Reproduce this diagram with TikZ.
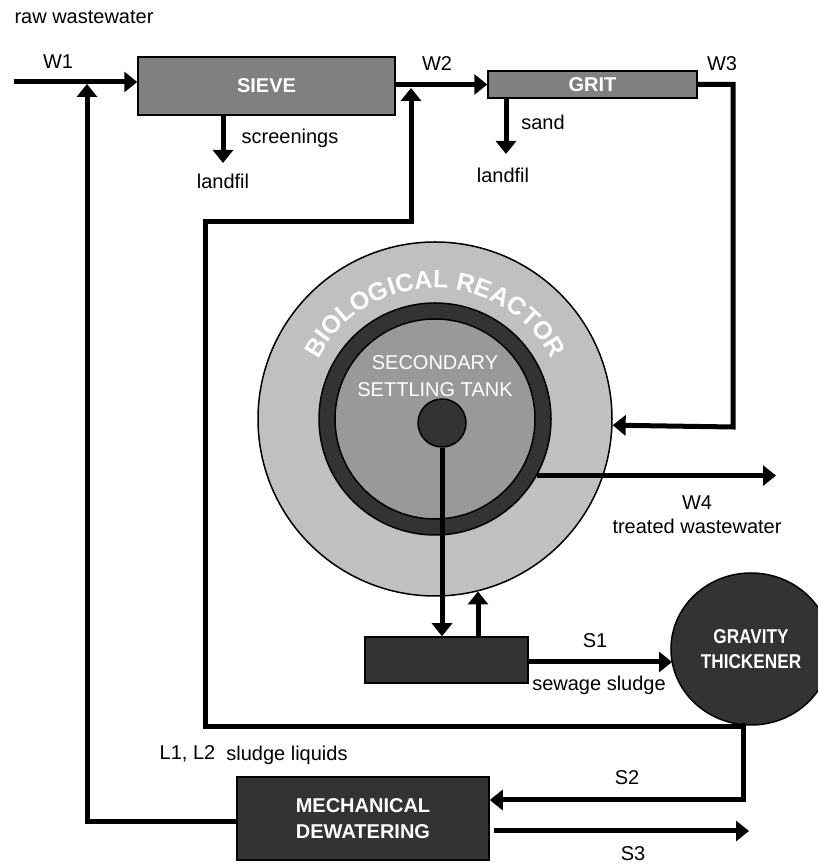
\documentclass[tikz,border=0pt]{standalone}
\usepackage{fontspec}
\usepackage{graphicx}
\setmainfont{Liberation Sans}
\usetikzlibrary{arrows.meta,shapes.geometric,decorations.text,calc}
\definecolor{darkfill}{HTML}{333333}
\definecolor{midfill}{HTML}{808080}
\definecolor{lightfill}{HTML}{C0C0C0}
\definecolor{tankfill}{HTML}{999999}
\begin{document}
\begin{tikzpicture}[x=1pt,y=1pt,
  flow/.style={line width=5pt, line join=miter, -{Triangle[length=13pt,width=20pt]}},
  lbl/.style={font=\fontsize{20}{24}\selectfont, inner sep=0pt, text height=14.5pt, text depth=4pt},
  unit/.style={draw=black, line width=1.5pt, inner sep=0pt, text=white},
]
\useasboundingbox[fill=white] (0,0) rectangle (818,864);

% biological reactor and settling tank
\node[unit, circle, fill=lightfill, minimum size=354pt] (reactor) at (435,445) {};
\node[unit, circle, fill=darkfill, minimum size=232pt] (ring) at (435,445) {};
\node[unit, circle, fill=tankfill, minimum size=200pt] (tank) at (435,445) {};
\node[unit, circle, fill=darkfill, minimum size=48pt] (sc) at (442,441) {};
\node[text=white, align=center, font=\fontsize{20}{27}\selectfont, inner sep=0pt] (tanklbl) at (435,488) {SECONDARY\\SETTLING TANK};
\begin{scope}
\bfseries\fontsize{25}{28}\selectfont
\path[decorate, decoration={text along path, text align=center, text color=white,
  text={|\bfseries\fontsize{25}{28}\selectfont|BIOLOGICAL REACTOR}}]
  (304,445) arc[start angle=180, end angle=0, radius=131];
\end{scope}

% units
\node[unit, rectangle, fill=midfill, minimum width=257pt, minimum height=58pt,
  font=\bfseries\fontsize{20}{24}\selectfont] (sieve) at (266.5,778) {SIEVE};
\node[unit, rectangle, fill=midfill, minimum width=209pt, minimum height=27pt,
  font=\bfseries\fontsize{20}{24}\selectfont] (grit) at (592.5,779.5) {GRIT};
\node[unit, rectangle, fill=darkfill, minimum width=163pt, minimum height=46pt] (sludge) at (446.5,204) {};
\node[unit, rectangle, fill=darkfill, minimum width=252pt, minimum height=83pt, align=center,
  font=\bfseries\fontsize{20}{26}\selectfont] (mech) at (363,45.5) {MECHANICAL\\DEWATERING};
\node[unit, ellipse, fill=darkfill, minimum width=160pt, minimum height=152pt, align=center,
  font=\bfseries\fontsize{20}{25}\selectfont] (thick) at (751,215)
  {\scalebox{0.86}[1]{GRAVITY}\\\scalebox{0.86}[1]{THICKENER}};

% free ends and corners
\coordinate (w1in) at (14,782);
\coordinate (l1tip) at (87,780);
\coordinate (scr) at (223,701);
\coordinate (sandtip) at (506,710);
\coordinate (w2tip) at (411,776);
\coordinate (w3c) at (733,437);
\coordinate (w4end) at (776,388);
\coordinate (s1tip) at (672,202);
\coordinate (tb) at (743,141);
\coordinate (l2a) at (205,137);
\coordinate (l2b) at (205,642);
\coordinate (s3end) at (749,33);

% connectors
\draw[flow] (w1in) -- (w1in -| sieve.west);
\draw[flow] (sieve.east |- grit.west) -- (grit.west);
\draw[flow] (sieve.south -| scr) -- (scr);
\draw[flow] (grit.south -| sandtip) -- (sandtip);
\draw[flow] (grit.east) -| (w3c) -- (reactor.-2.6);
\draw[flow] (ring.-29) -- (ring.-29 -| w4end);
\draw[flow] (sc.south) -- (sc.south |- sludge.north);
\draw[flow] (sludge.north -| reactor.-76.9) -- (reactor.-76.9);
\draw[flow] ([yshift=-2pt]sludge.east) -- (s1tip);
\draw[flow] (tb) |- ([yshift=18.5pt]mech.east);
\draw[flow] (tb) |- (l2a) -- (l2b) -| (w2tip);
\draw[flow] ([yshift=-3.5pt]mech.west) -| (l1tip);
\draw[flow] ([shift={(4pt,-12.5pt)}]mech.east) -- (s3end);

% labels
\node[lbl] (rawlbl) at (84,846) {raw wastewater};
\node[lbl] (w1lbl) at (58,801) {W1};
\node[lbl] (scrlbl) at (290,726) {screenings};
\node[lbl] (lf1) at (223,681) {landfil};
\node[lbl] (w2lbl) at (437,799) {W2};
\node[lbl] (w3lbl) at (722,799) {W3};
\node[lbl] (sandlbl) at (543,740) {sand};
\node[lbl] (lf2) at (503,687) {landfil};
\node[lbl] (w4lbl) at (697,360) {W4};
\node[lbl] (twlbl) at (697,336) {treated wastewater};
\node[lbl] (s1lbl) at (595,222) {S1};
\node[lbl] (sslbl) at (599,179) {sewage sludge};
\node[lbl] (l12lbl) at (187.5,110) {L1, L2};
\node[lbl] (sllbl) at (287,109) {sludge liquids};
\node[lbl] (s2lbl) at (627,85) {S2};
\node[lbl] (s3lbl) at (633,9) {S3};
\end{tikzpicture}
\end{document}
